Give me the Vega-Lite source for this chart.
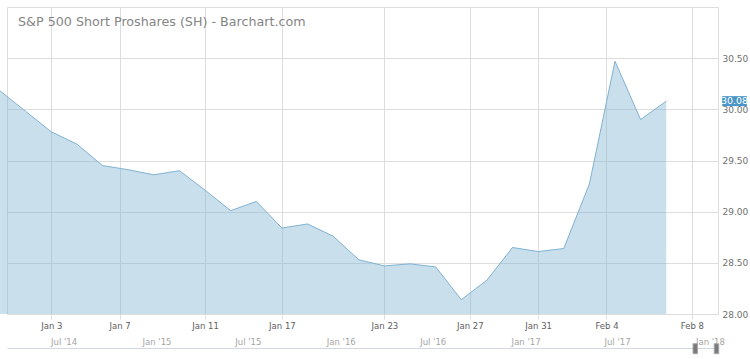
{
  "$schema": "https://vega.github.io/schema/vega-lite/v6.json",
  "width": 711,
  "height": 307,
  "autosize": "none",
  "padding": {"left": 7, "top": 7, "right": 32, "bottom": 45},
  "background": "white",
  "config": {
    "view": {"stroke": "#dddddd", "strokeWidth": 1},
    "font": "DejaVu Sans"
  },
  "title": {
    "text": "S&P 500 Short Proshares (SH) - Barchart.com",
    "anchor": "start",
    "frame": "group",
    "baseline": "alphabetic",
    "offset": -32,
    "dx": 11,
    "font": "DejaVu Sans",
    "fontSize": 12.7,
    "fontWeight": "normal",
    "color": "#858585"
  },
  "datasets": {
    "prices": [
      {"idx": 0, "date": "2017-12-29", "close": 30.18},
      {"idx": 1, "date": "2018-01-02", "close": 29.98},
      {"idx": 2, "date": "2018-01-03", "close": 29.78},
      {"idx": 3, "date": "2018-01-04", "close": 29.66},
      {"idx": 4, "date": "2018-01-05", "close": 29.45},
      {"idx": 5, "date": "2018-01-08", "close": 29.41},
      {"idx": 6, "date": "2018-01-09", "close": 29.36},
      {"idx": 7, "date": "2018-01-10", "close": 29.40},
      {"idx": 8, "date": "2018-01-11", "close": 29.21},
      {"idx": 9, "date": "2018-01-12", "close": 29.01},
      {"idx": 10, "date": "2018-01-16", "close": 29.10},
      {"idx": 11, "date": "2018-01-17", "close": 28.84},
      {"idx": 12, "date": "2018-01-18", "close": 28.88},
      {"idx": 13, "date": "2018-01-19", "close": 28.76},
      {"idx": 14, "date": "2018-01-22", "close": 28.53},
      {"idx": 15, "date": "2018-01-23", "close": 28.47},
      {"idx": 16, "date": "2018-01-24", "close": 28.49},
      {"idx": 17, "date": "2018-01-25", "close": 28.46},
      {"idx": 18, "date": "2018-01-26", "close": 28.14},
      {"idx": 19, "date": "2018-01-29", "close": 28.33},
      {"idx": 20, "date": "2018-01-30", "close": 28.65},
      {"idx": 21, "date": "2018-01-31", "close": 28.61},
      {"idx": 22, "date": "2018-02-01", "close": 28.64},
      {"idx": 23, "date": "2018-02-02", "close": 29.27},
      {"idx": 24, "date": "2018-02-05", "close": 30.47},
      {"idx": 25, "date": "2018-02-06", "close": 29.90},
      {"idx": 26, "date": "2018-02-07", "close": 30.08}
    ],
    "navigator": [
      {"handle": "left", "date": "2017-12-03"},
      {"handle": "right", "date": "2018-01-14"}
    ]
  },
  "layer": [
    {
      "data": {"name": "prices"},
      "encoding": {
        "x": {
          "field": "idx",
          "type": "quantitative",
          "scale": {"domain": [0.27, 28.02], "nice": false, "zero": false},
          "axis": {
            "title": null,
            "values": [2, 4.667, 8, 11, 15, 18.333, 21, 23.667, 27],
            "labelExpr": "datum.value < 3 ? 'Jan 3' : datum.value < 6 ? 'Jan 7' : datum.value < 9 ? 'Jan 11' : datum.value < 12 ? 'Jan 17' : datum.value < 16 ? 'Jan 23' : datum.value < 19 ? 'Jan 27' : datum.value < 22 ? 'Jan 31' : datum.value < 25 ? 'Feb 4' : 'Feb 8'",
            "domain": false,
            "grid": true,
            "gridColor": "#dddddd",
            "tickColor": "#dddddd",
            "tickSize": 5,
            "labelPadding": 2,
            "labelFont": "DejaVu Sans",
            "labelFontSize": 8.5,
            "labelColor": "#606060",
            "labelFlush": false,
            "labelOverlap": false
          }
        },
        "y": {
          "field": "close",
          "type": "quantitative",
          "stack": null,
          "scale": {"domain": [28, 31], "nice": false, "zero": false},
          "axis": {
            "title": null,
            "orient": "right",
            "values": [28, 28.5, 29, 29.5, 30, 30.5],
            "format": ".2f",
            "domain": false,
            "ticks": false,
            "grid": true,
            "gridColor": "#dddddd",
            "labelPadding": 4,
            "labelFont": "DejaVu Sans",
            "labelFontSize": 9,
            "labelColor": "#707070"
          }
        }
      },
      "layer": [
        {
          "mark": {
            "type": "area",
            "fill": "#7fb2d2",
            "fillOpacity": 0.42,
            "line": {"color": "#80b2d2", "strokeWidth": 1}
          }
        },
        {
          "transform": [{"filter": "datum.idx == 26"}],
          "mark": {
            "type": "point",
            "shape": "M-0.95,-0.385H0.95V0.385H-0.95Z",
            "size": 676,
            "filled": true,
            "color": "#4a96c8",
            "opacity": 1,
            "xOffset": 68.3
          }
        },
        {
          "transform": [{"filter": "datum.idx == 26"}],
          "mark": {
            "type": "text",
            "color": "white",
            "font": "DejaVu Sans",
            "fontSize": 9.5,
            "align": "center",
            "baseline": "middle",
            "xOffset": 68.3
          },
          "encoding": {
            "text": {"field": "close", "type": "quantitative", "format": ".2f"}
          }
        }
      ]
    },
    {
      "data": {"name": "navigator"},
      "mark": {
        "type": "point",
        "shape": "M-0.45,-1H0.45V1H-0.45Z",
        "size": 100,
        "filled": true,
        "fill": "#7a7a7a",
        "stroke": "#a8a8a8",
        "strokeWidth": 1,
        "opacity": 1,
        "yOffset": 188.2
      },
      "encoding": {
        "x": {
          "field": "date",
          "type": "temporal",
          "scale": {"domain": [{"year": 2014, "month": 3, "date": 11}, {"year": 2018, "month": 1, "date": 17}], "nice": false},
          "axis": {
            "title": null,
            "orient": "bottom",
            "offset": 34,
            "grid": false,
            "ticks": false,
            "tickSize": 0,
            "domain": true,
            "domainColor": "#cfd8e3",
            "tickCount": {"interval": "month", "step": 6},
            "format": "%b '%y",
            "labelPadding": -11,
            "labelFont": "DejaVu Sans",
            "labelFontSize": 8.5,
            "labelColor": "#a5a5a5",
            "labelFlush": false,
            "labelOverlap": false
          }
        }
      }
    }
  ],
  "resolve": {"scale": {"x": "independent"}, "axis": {"x": "independent"}}
}
